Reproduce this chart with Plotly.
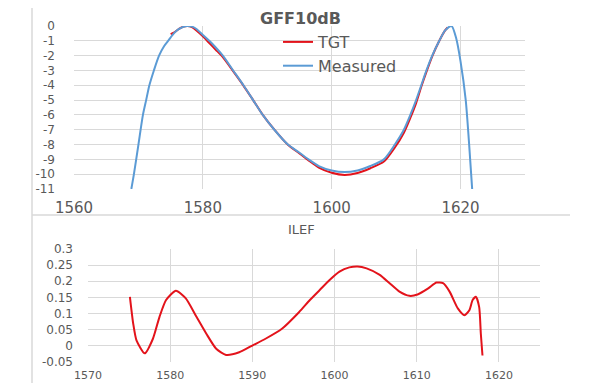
import plotly.graph_objects as go

# ---- Top chart: GFF10dB ----
meas_wl = [1568.9, 1569.3, 1570.0, 1570.7, 1571.2, 1571.7, 1572.4, 1573.2, 1574.0, 1574.7,
           1575.5, 1576.3, 1577.0, 1577.6, 1578.3, 1579.0, 1580.0, 1581.0, 1582.0, 1583.1,
           1584.7, 1586.3, 1587.8, 1589.3, 1591.1, 1593.2, 1595.0, 1596.4, 1598.0, 1600.0,
           1602.0, 1604.0, 1606.0, 1608.1, 1609.8, 1611.2, 1612.2, 1613.1, 1613.9, 1614.7,
           1615.6, 1616.7, 1617.6, 1618.6, 1619.3, 1620.0, 1620.8, 1621.3, 1621.8]
meas_db = [-11, -10, -8, -6, -5, -4, -3, -2, -1.35, -0.95,
           -0.5, -0.2, -0.05, 0, -0.04, -0.2, -0.6, -1.0, -1.45, -2,
           -3, -4, -5, -6, -7, -8, -8.55, -9, -9.45, -9.75,
           -9.86, -9.75, -9.45, -9, -8, -7, -6, -5, -4, -3,
           -2, -1, -0.3, 0, -0.8, -2.4, -5, -7.8, -11]

tgt_wl = [1575.0, 1575.5, 1576.3, 1577.0, 1577.6, 1578.3, 1579.0, 1580.0, 1581.0, 1582.0,
          1583.1, 1584.7, 1586.3, 1587.8, 1589.3, 1591.1, 1593.2, 1595.0, 1596.4, 1598.0,
          1600.0, 1602.0, 1604.0, 1606.0, 1608.1, 1609.8, 1611.2, 1612.2, 1613.1, 1613.9,
          1614.7, 1615.6, 1616.7, 1617.6, 1618.0]
tgt_db = [-0.55, -0.45, -0.2, -0.04, 0, -0.08, -0.3, -0.7, -1.15, -1.6,
          -2.1, -3.05, -4.02, -5, -6, -7, -8.02, -8.6, -9.07, -9.55,
          -9.9, -10.05, -9.92, -9.6, -9.15, -8.2, -7.2, -6.2, -5.2, -4.1,
          -3.1, -2.05, -1.0, -0.3, -0.1]

top_xticks = [1560, 1580, 1600, 1620]
top_yticks = [0, -1, -2, -3, -4, -5, -6, -7, -8, -9, -10, -11]
top_yticklabels = ["0", "-1", "-2", "-3", "-4", "-5", "-6", "-7", "-8", "-9", "-10", "-11"]

# ---- Bottom chart: ILEF ----
ilef_wl = [1575.1, 1575.5, 1575.9, 1576.9, 1577.9, 1578.7, 1579.5, 1580.7, 1581.9, 1583.2,
           1584.4, 1585.6, 1586.8, 1588.4, 1590.0, 1591.6, 1593.6, 1595.7, 1597.0, 1598.2,
           1599.4, 1600.6, 1601.8, 1602.8, 1603.9, 1605.5, 1606.7, 1607.9, 1609.1, 1610.1,
           1611.4, 1612.4, 1613.2, 1614.0, 1615.0, 1615.8, 1616.4, 1616.8, 1617.2, 1617.6,
           1617.8, 1618.0]
ilef_val = [0.152, 0.069, 0.017, -0.023, 0.022, 0.09, 0.142, 0.171, 0.147, 0.09,
            0.0375, -0.009, -0.028, -0.02, 0.001, 0.022, 0.053, 0.105, 0.142, 0.173,
            0.204, 0.23, 0.243, 0.246, 0.24, 0.22, 0.194, 0.168, 0.155, 0.159,
            0.178, 0.196, 0.194, 0.168, 0.116, 0.095, 0.11, 0.142, 0.152, 0.12,
            0.0375, -0.03]

bot_xticks = [1570, 1580, 1590, 1600, 1610, 1620]
bot_yticks = [0.3, 0.25, 0.2, 0.15, 0.1, 0.05, 0, -0.05]
bot_yticklabels = ["0.3", "0.25", "0.2", "0.15", "0.1", "0.05", "0", "-0.05"]

RED = "#E3131B"
BLUE = "#5B9BD5"
GRID = "#D9D9D9"
TXT = "#595959"
FONT = "DejaVu Sans"

W, H = 600, 383
OFF = 8  # page body margin offset


def fx(px):
    return (px - OFF) / W


def fy(py):
    return (H - (py - OFF)) / H


fig = go.Figure()
fig.add_trace(go.Scatter(x=tgt_wl, y=tgt_db, name="TGT", mode="lines",
                         line=dict(color=RED, width=2, shape="spline", smoothing=0.7),
                         xaxis="x", yaxis="y"))
fig.add_trace(go.Scatter(x=meas_wl, y=meas_db, name="Measured", mode="lines",
                         line=dict(color=BLUE, width=2, shape="spline", smoothing=0.7),
                         xaxis="x", yaxis="y"))
fig.add_trace(go.Scatter(x=ilef_wl, y=ilef_val, name="ILEF", mode="lines", showlegend=False,
                         line=dict(color=RED, width=2, shape="spline", smoothing=0.6),
                         xaxis="x2", yaxis="y2"))

axcommon = dict(showgrid=True, gridcolor=GRID, gridwidth=1, zeroline=False, showline=False,
                ticks="", color=TXT, automargin=False)

fig.update_layout(
    width=W, height=H,
    autosize=False,
    margin=dict(l=0, r=0, t=0, b=0, pad=0, autoexpand=False),
    paper_bgcolor="white", plot_bgcolor="white",
    font=dict(family=FONT, color=TXT),
    xaxis=dict(domain=[fx(74), fx(525)], anchor="y", range=[1560, 1630],
               tickvals=top_xticks, tickfont=dict(size=15, family=FONT, color=TXT),
               ticklabelstandoff=8, **axcommon),
    yaxis=dict(domain=[fy(189), fy(26)], anchor="x", range=[-11, 0],
               tickvals=top_yticks, ticktext=top_yticklabels,
               tickfont=dict(size=12, family=FONT, color=TXT),
               ticklabelstandoff=18, **axcommon),
    xaxis2=dict(domain=[fx(88), fx(540)], anchor="y2", range=[1570, 1625],
                tickvals=bot_xticks, tickfont=dict(size=11, family=FONT, color=TXT),
                ticklabelstandoff=5, **axcommon),
    yaxis2=dict(domain=[fy(362), fy(249)], anchor="x2", range=[-0.05, 0.3],
                tickvals=bot_yticks, ticktext=bot_yticklabels,
                tickfont=dict(size=12, family=FONT, color=TXT),
                ticklabelstandoff=14, **axcommon),
    legend=dict(x=fx(278), y=fy(25), xanchor="left", yanchor="top",
                bgcolor="rgba(0,0,0,0)", font=dict(size=16, family=FONT, color=TXT),
                itemwidth=30, tracegroupgap=0),
    annotations=[
        dict(text="<b>GFF10dB</b>", x=fx(300), y=1.0, xref="paper", yref="paper",
             showarrow=False, font=dict(size=16, family=FONT, color=TXT),
             xanchor="center", yanchor="top", borderpad=0),
        dict(text="ILEF", x=fx(301), y=fy(229), xref="paper", yref="paper",
             showarrow=False, font=dict(size=13, family=FONT, color=TXT),
             xanchor="center", yanchor="middle"),
    ],
    shapes=[
        dict(type="line", xref="paper", yref="paper", x0=fx(32), x1=fx(32), y0=0, y1=1.05,
             line=dict(color=GRID, width=1.5)),
        dict(type="line", xref="paper", yref="paper", x0=fx(32), x1=fx(570),
             y0=fy(215), y1=fy(215), line=dict(color=GRID, width=1.5)),
    ],
)

fig.write_html("out.html")
